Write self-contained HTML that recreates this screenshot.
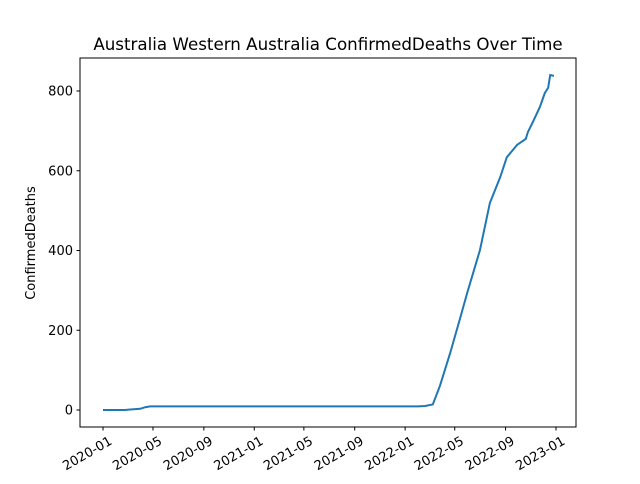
<!DOCTYPE html>
<html><head><meta charset="utf-8"><style>
body{margin:0;background:#fff;font-family:"DejaVu Sans","Liberation Sans",sans-serif}
</style></head><body>
<svg width="640" height="480" xmlns="http://www.w3.org/2000/svg" font-family="DejaVu Sans, Liberation Sans, sans-serif">
<g id="g"></g>
</svg>
<script>
const dates=["2020-01-01","2020-02-22","2020-03-31","2020-04-12","2020-04-24","2021-08-20","2022-02-01","2022-02-18","2022-03-09","2022-03-26","2022-04-20","2022-05-14","2022-05-31","2022-07-01","2022-07-25","2022-08-19","2022-09-04","2022-09-29","2022-10-20","2022-10-25","2022-11-06","2022-11-23","2022-12-05","2022-12-13","2022-12-18","2022-12-27"];
const deaths=[0,0,3,7,9,9,9,10,14,60,143,230,293,401,519,584,634,665,680,697,722,760,795,808,840,838];
const xTicks=["2020-01","2020-05","2020-09","2021-01","2021-05","2021-09","2022-01","2022-05","2022-09","2023-01"];
const yTicks=[0,200,400,600,800];
const L=80,R=576,T=58,B=427;
const d0=Date.UTC(2020,0,1),d1=Date.UTC(2023,0,1);
const X=t=>103+(t-d0)/(d1-d0)*453;
const Y=v=>410-v*0.39875;
const pd=s=>{const p=s.split("-").map(Number);return Date.UTC(p[0],p[1]-1,p[2]||1);};
const g=document.getElementById("g");
const NS="http://www.w3.org/2000/svg";
function el(t,a,txt){const e=document.createElementNS(NS,t);for(const k in a)e.setAttribute(k,a[k]);if(txt!=null)e.textContent=txt;g.appendChild(e);return e;}
let e=el("rect",{x:L,y:T,width:R-L,height:B-T,fill:"none",stroke:"#000","stroke-width":1});


yTicks.forEach(v=>{const y=Y(v);
 let t=el("line",{x1:L-3.5,x2:L,y1:y,y2:y,stroke:"#000"});
 
 
 let l=el("text",{x:L-7,y:y+4.5,"text-anchor":"end","font-size":"13px"},v);
 
 });
xTicks.forEach(s=>{const x=X(pd(s));
 let t=el("line",{x1:x,x2:x,y1:B,y2:B+3.5,stroke:"#000"});
 
 
 let l=el("text",{transform:`translate(${x+5},${B+8}) rotate(-30)`,"text-anchor":"end","font-size":"13px",dy:"0.75em"},s);
 
 });
let p=el("polyline",{points:dates.map((s,i)=>X(pd(s))+","+Y(deaths[i])).join(" "),fill:"none",stroke:"#1f77b4","stroke-width":2});


let ti=el("text",{x:328,y:50,"text-anchor":"middle","font-size":"16.7px"},"Australia Western Australia ConfirmedDeaths Over Time");


let yl=el("text",{transform:"translate(35,243) rotate(-90)","text-anchor":"middle","font-size":"13px"},"ConfirmedDeaths");


</script>
</body></html>
